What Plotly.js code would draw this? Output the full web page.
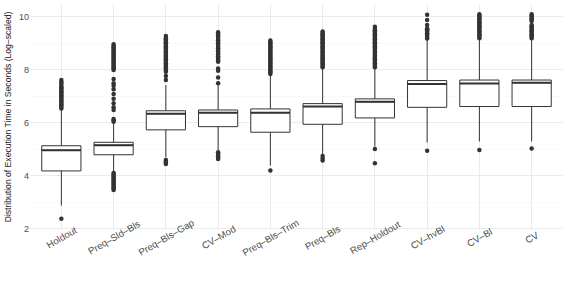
<!DOCTYPE html>
<html><head><meta charset="utf-8">
<script src="https://cdn.plot.ly/plotly-3.0.1.min.js"></script>
<style>html,body{margin:0;padding:0;background:#fff;}#chart{width:568px;height:288px;}</style>
</head><body><div id="chart"></div>
<script>
const categories = ["Holdout","Preq\u2013Sld\u2013Bls","Preq\u2013Bls\u2013Gap","CV\u2013Mod","Preq\u2013Bls\u2013Trim","Preq\u2013Bls","Rep\u2013Holdout","CV\u2013hvBl","CV\u2013Bl","CV"];
const q1     = [4.19, 4.80, 5.74, 5.86, 5.65, 5.95, 6.19, 6.59, 6.62, 6.62];
const median = [4.97, 5.16, 6.35, 6.39, 6.39, 6.62, 6.80, 7.47, 7.49, 7.52];
const q3     = [5.14, 5.27, 6.46, 6.49, 6.53, 6.73, 6.91, 7.60, 7.62, 7.62];
const lowerWhisker = [2.88, 4.13, 4.70, 4.98, 4.39, 4.79, 5.11, 5.26, 5.30, 5.30];
const upperWhisker = [6.52, 5.97, 7.43, 7.43, 7.81, 8.06, 8.06, 9.13, 9.13, 9.17];

const outHoldout = [2.38, 6.55,6.6,6.65,6.7,6.75,6.8,6.85,6.9,6.95,7.0,7.05,7.1,7.15,7.2,7.25,7.3,7.35,7.4,7.5,7.55,7.62];
const outPreqSldBls = [3.47,3.52,3.57,3.62,3.67,3.72,3.77,3.82,3.87,3.92,3.97,4.02,4.07,4.11, 6.05,6.1,6.15,6.49,6.59,6.74,6.91,7.09,7.27,7.4,7.5,7.66,8.0,8.05,8.1,8.15,8.2,8.25,8.3,8.35,8.4,8.45,8.5,8.55,8.6,8.65,8.7,8.75,8.8,8.85,8.9,8.97];
const outPreqBlsGap = [4.45,4.5,4.55,4.6, 7.62,7.77,7.93,8.0,8.05,8.1,8.15,8.2,8.25,8.3,8.35,8.4,8.45,8.5,8.55,8.6,8.65,8.7,8.75,8.8,8.85,8.9,8.95,9.0,9.05,9.1,9.15,9.2,9.28];
const outCVMod = [4.64,4.69,4.74,4.79,4.84,4.89, 7.5,7.72,7.97,8.06,8.31,8.36,8.41,8.46,8.52,8.58,8.64,8.7,8.76,8.82,8.88,8.94,9.0,9.06,9.12,9.18,9.24,9.3,9.36,9.42];
const outPreqBlsTrim = [4.21, 7.85,7.9,7.95,8.0,8.05,8.1,8.15,8.2,8.25,8.3,8.35,8.4,8.45,8.5,8.55,8.6,8.65,8.7,8.75,8.8,8.85,8.9,8.95,9.0,9.05,9.11];
const outPreqBls = [4.58,4.66,4.75, 8.1,8.15,8.2,8.25,8.3,8.35,8.4,8.45,8.5,8.55,8.6,8.65,8.7,8.75,8.8,8.85,8.9,8.95,9.0,9.05,9.1,9.15,9.2,9.25,9.3,9.35,9.4,9.45];
const outRepHoldout = [4.48,5.02, 8.1,8.15,8.2,8.25,8.3,8.35,8.4,8.45,8.5,8.55,8.6,8.65,8.7,8.75,8.8,8.85,8.9,8.95,9.0,9.05,9.1,9.15,9.2,9.25,9.3,9.35,9.4,9.45,9.5,9.55,9.63];
const outCVhvBl = [4.95, 9.19,9.24,9.29,9.34,9.39,9.44,9.49,9.54,9.57,9.7,9.89,10.08];
const outCVBl = [4.98, 9.2,9.25,9.3,9.35,9.4,9.45,9.5,9.55,9.6,9.65,9.7,9.75,9.8,9.85,9.9,9.95,10.0,10.05,10.1];
const outCV = [5.04, 9.2,9.25,9.3,9.35,9.4,9.45,9.5,9.55,9.6,9.65,9.7,9.85,9.9,9.95,10.0,10.05,10.1];
const outliers = [outHoldout,outPreqSldBls,outPreqBlsGap,outCVMod,outPreqBlsTrim,outPreqBls,outRepHoldout,outCVhvBl,outCVBl,outCV];

const yTicks = [2,4,6,8,10];
const dark = '#333333';
const font = 'Liberation Sans, Arial, Helvetica, sans-serif';

const ox = [], oy = [];
outliers.forEach((arr,i)=>arr.forEach(v=>{ox.push(categories[i]); oy.push(v);}));

const traces = [
  {type:'scatter', mode:'markers', x:ox, y:oy, marker:{color:dark, size:4.5}, hoverinfo:'skip', showlegend:false},
  {type:'box', x:categories, q1:q1, median:median, q3:q3, lowerfence:lowerWhisker, upperfence:upperWhisker,
   boxpoints:false, width:0.75, whiskerwidth:0, fillcolor:'#ffffff', line:{color:dark, width:1}, showlegend:false},
  {type:'box', x:categories, q1:median, median:median, q3:median, lowerfence:median, upperfence:median,
   boxpoints:false, width:0.75, whiskerwidth:0, fillcolor:'rgba(0,0,0,0)', line:{color:dark, width:2}, showlegend:false}
];

const annotations = categories.map(c=>({x:c, xref:'x', y:-0.033, yref:'paper', text:c, showarrow:false,
  textangle:-30, xanchor:'center', yanchor:'middle', font:{family:font, size:9.6, color:'#4d4d4d'}}));

const layout = {
  width:568, height:288,
  margin:{l:30, r:5, t:4, b:58},
  paper_bgcolor:'#ffffff', plot_bgcolor:'#ffffff',
  showlegend:false, boxmode:'overlay',
  font:{family:font, color:'#4d4d4d'},
  xaxis:{type:'category', categoryarray:categories, range:[-0.6, 9.6], showticklabels:false, ticks:'',
    showgrid:true, gridcolor:'#ebebeb', gridwidth:1, zeroline:false, showline:false},
  yaxis:{range:[1.96, 10.49], tickvals:yTicks, ticktext:yTicks.map(String), ticks:'', 
    tickfont:{family:font, size:9, color:'#4d4d4d'},
    showgrid:true, gridcolor:'#ebebeb', gridwidth:1, zeroline:false, showline:false,
    minor:{tickvals:[3,5,7,9], showgrid:true, gridcolor:'#f5f5f5', gridwidth:0.6},
    title:{text:'Distribution of Execution Time in Seconds (Log\u2013scaled)', font:{family:font, size:8.6, color:'#1a1a1a'}, standoff:5}},
  annotations:annotations
};
Plotly.newPlot('chart', traces, layout, {displayModeBar:false, staticPlot:true});
</script></body></html>
